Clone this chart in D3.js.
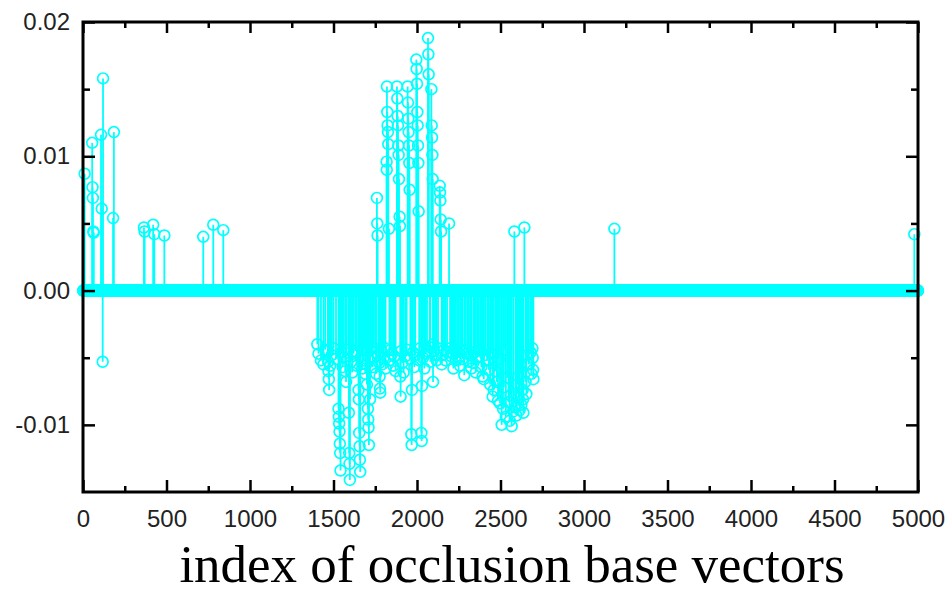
<!DOCTYPE html>
<html>
<head>
<meta charset="utf-8">
<script src="https://cdn.jsdelivr.net/npm/d3@7"></script>
<style>
  body { margin: 0; background: #fff; }
  svg { display: block; }
  .tick text { font-family: "Liberation Sans", Arial, sans-serif; font-size: 24px; fill: #222; }
</style>
</head>
<body>
<svg id="chart" width="950" height="590"></svg>
<script>
// x tick labels and y tick values
const xTicks = [0, 500, 1000, 1500, 2000, 2500, 3000, 3500, 4000, 4500, 5000];
const yTicks = [-0.01, 0.00, 0.01, 0.02];
const yTickLabels = ['-0.01', '0.00', '0.01', '0.02'];
const xLabel = 'index of occlusion base vectors';
const nVectors = 5000;

// non-zero coefficients (index, value); every other index is zero
const spikeIdx = [
  10, 55, 57, 59, 62, 64, 108, 112, 118, 120, 180, 185,
  365, 369, 420, 427, 487, 720, 780, 840,
  1403, 1440, 1466, 1468, 1470, 1472, 1474, 1490,
  1530, 1532, 1534, 1536, 1538, 1540, 1542, 1560, 1570, 1575,
  1592, 1594, 1596, 1598, 1620,
  1650, 1652, 1654, 1656, 1658, 1660, 1680, 1690, 1700,
  1706, 1708, 1710, 1712, 1719, 1750,
  1760, 1762, 1764, 1774, 1776, 1778, 1780, 1800,
  1818, 1819, 1820, 1822, 1824, 1826, 1828, 1832, 1850,
  1880, 1882, 1884, 1886, 1888, 1890, 1892, 1896, 1898, 1900, 1902, 1930,
  1944, 1946, 1948, 1950, 1952, 1954, 1956, 1966, 1968, 1970,
  1996, 1998, 2000, 2002, 2004, 2006, 2008, 2010, 2013,
  2026, 2028, 2030, 2060, 2066, 2068, 2070,
  2086, 2088, 2090, 2092, 2094, 2096, 2098, 2110,
  2136, 2138, 2140, 2142, 2144, 2148, 2180, 2192,
  2218, 2250, 2283, 2300, 2337, 2370, 2393, 2420, 2453, 2470,
  2497, 2507, 2527, 2540, 2567, 2577, 2583, 2600,
  2633, 2635, 2637, 2643, 2660, 2691, 2693, 2695, 2697,
  3182, 4978
];
const spikeVal = [
  0.0087, 0.0110, 0.0077, 0.0069, 0.0044, 0.0043, 0.0116, 0.0061, -0.0053, 0.0158, 0.0054, 0.0118,
  0.0047, 0.0044, 0.0049, 0.0042, 0.0041, 0.0040, 0.0049, 0.0045,
  -0.0040, -0.0055, -0.0045, -0.0053, -0.0060, -0.0066, -0.0074, -0.0048,
  -0.0088, -0.0094, -0.0099, -0.0105, -0.0114, -0.0121, -0.0134, -0.0050, -0.0060, -0.0068,
  -0.0091, -0.0121, -0.0129, -0.0141, -0.0047,
  -0.0074, -0.0081, -0.0106, -0.0116, -0.0126, -0.0135, -0.0052, -0.0062, -0.0070,
  -0.0088, -0.0096, -0.0102, -0.0115, -0.0081, -0.0046,
  0.0069, 0.0050, 0.0041, -0.0054, -0.0064, -0.0073, -0.0076, -0.0050,
  0.0096, 0.0090, 0.0152, 0.0133, 0.0123, 0.0118, 0.0109, 0.0046, -0.0047,
  0.0152, 0.0143, 0.0130, 0.0123, 0.0108, 0.0101, 0.0083, 0.0055, 0.0048, -0.0064, -0.0079, -0.0049,
  0.0152, 0.0140, 0.0128, 0.0118, 0.0108, 0.0095, 0.0075, -0.0107, -0.0115, -0.0074,
  0.0172, 0.0165, 0.0154, 0.0133, 0.0123, 0.0108, 0.0095, 0.0059, -0.0052,
  -0.0106, -0.0112, -0.0071, -0.0045, 0.0188, 0.0176, 0.0161,
  0.0150, 0.0123, 0.0114, 0.0101, 0.0083, -0.0068, -0.0040, -0.0048,
  0.0078, 0.0073, 0.0067, 0.0053, 0.0044, -0.0055, -0.0046, 0.0050,
  -0.0058, -0.0050, -0.0063, -0.0047, -0.0054, -0.0049, -0.0064, -0.0052, -0.0079, -0.0060,
  -0.0084, -0.0100, -0.0044, -0.0065, -0.0101, -0.0090, 0.0044, -0.0070,
  -0.0074, -0.0081, -0.0091, 0.0047, -0.0048, -0.0043, -0.0050, -0.0059, -0.0066,
  0.0046, 0.0042
];

// further small negative coefficients inside the dense block
const blockIdx = [
  1410, 1425, 1450, 1480, 1500, 1515, 1548, 1555, 1580, 1605, 1612, 1630, 1640,
  1665, 1672, 1685, 1695, 1725, 1735, 1742, 1755, 1768, 1785, 1792, 1808, 1812,
  1835, 1842, 1858, 1865, 1872, 1906, 1912, 1920, 1938, 1960, 1976, 1984, 1990,
  2018, 2036, 2044, 2052, 2076, 2080, 2102, 2118, 2126, 2155, 2162, 2170,
  2198, 2205, 2212, 2225, 2232, 2240, 2258, 2265, 2272, 2290, 2310, 2318, 2325,
  2345, 2352, 2360, 2378, 2385, 2400, 2408, 2430, 2438, 2445, 2460, 2478, 2485,
  2490, 2515, 2520, 2532, 2548, 2555, 2560, 2590, 2595, 2608, 2615, 2620, 2625,
  2650, 2655, 2670, 2680, 2685
];
const blockVal = [
  -0.0047, -0.0052, -0.0044, -0.0056, -0.0043, -0.0051, -0.0046, -0.0057, -0.0044, -0.0053, -0.0061, -0.0045, -0.0056,
  -0.0049, -0.0058, -0.0044, -0.0055, -0.0049, -0.0057, -0.0043, -0.0062, -0.0048, -0.0045, -0.0055, -0.0043, -0.0058,
  -0.0052, -0.0044, -0.0056, -0.0049, -0.0060, -0.0045, -0.0054, -0.0061, -0.0044, -0.0051, -0.0046, -0.0057, -0.0048,
  -0.0043, -0.0050, -0.0058, -0.0047, -0.0042, -0.0053, -0.0045, -0.0052, -0.0043, -0.0048, -0.0044, -0.0052,
  -0.0043, -0.0049, -0.0047, -0.0044, -0.0052, -0.0046, -0.0056, -0.0045, -0.0051, -0.0044, -0.0053, -0.0048, -0.0058,
  -0.0046, -0.0061, -0.0050, -0.0044, -0.0057, -0.0066, -0.0048, -0.0059, -0.0070, -0.0047, -0.0074, -0.0068, -0.0082,
  -0.0051, -0.0088, -0.0072, -0.0094, -0.0083, -0.0097, -0.0078, -0.0087, -0.0093, -0.0080, -0.0089, -0.0062, -0.0085,
  -0.0068, -0.0077, -0.0055, -0.0046, -0.0062
];

const lookup = new Map(spikeIdx.map((d, i) => [d, spikeVal[i]]));
blockIdx.forEach((d, i) => lookup.set(d, blockVal[i]));
const series = d3.range(1, nVectors + 1).map(i => ({ i, v: lookup.has(i) ? lookup.get(i) : 0 }));
const stems = series.filter(d => d.v !== 0);

const margin = { top: 22, right: 32, bottom: 98, left: 83 };
const width = 950 - margin.left - margin.right;
const height = 590 - margin.top - margin.bottom;
const colour = '#00ffff';

const svg = d3.select('#chart');
const g = svg.append('g').attr('transform', `translate(${margin.left},${margin.top})`);

const x = d3.scaleLinear().domain([0, 5000]).range([0, width]);
const y = d3.scaleLinear().domain([-0.015, 0.02]).range([height, 0]);

// stems
g.append('g')
  .selectAll('line')
  .data(stems)
  .join('line')
    .attr('x1', d => x(d.i))
    .attr('x2', d => x(d.i))
    .attr('y1', y(0))
    .attr('y2', d => y(d.v))
    .attr('stroke', colour)
    .attr('stroke-width', 1.8);

// markers (zeros first so spikes sit on top)
g.append('g')
  .selectAll('circle')
  .data(series.filter(d => d.v === 0).concat(stems))
  .join('circle')
    .attr('cx', d => x(d.i))
    .attr('cy', d => y(d.v))
    .attr('r', 5.4)
    .attr('fill', 'none')
    .attr('stroke', colour)
    .attr('stroke-width', 1.7);

// minor ticks
const xMinor = d3.range(250, 5000, 500);
const yMinor = [-0.005, 0.005, 0.015];
const noLabel = () => '';

g.append('g').attr('transform', `translate(0,${height})`)
  .call(d3.axisBottom(x).tickValues(xMinor).tickSizeInner(-6).tickSizeOuter(0).tickFormat(noLabel));
g.append('g')
  .call(d3.axisTop(x).tickValues(xMinor).tickSizeInner(-6).tickSizeOuter(0).tickFormat(noLabel));
g.append('g')
  .call(d3.axisLeft(y).tickValues(yMinor).tickSizeInner(-7).tickSizeOuter(0).tickFormat(noLabel));
g.append('g').attr('transform', `translate(${width},0)`)
  .call(d3.axisRight(y).tickValues(yMinor).tickSizeInner(-7).tickSizeOuter(0).tickFormat(noLabel));

// major ticks with labels
g.append('g').attr('transform', `translate(0,${height})`)
  .call(d3.axisBottom(x).tickValues(xTicks).tickSizeInner(-12).tickSizeOuter(0).tickPadding(18).tickFormat(d3.format('d')));
g.append('g')
  .call(d3.axisTop(x).tickValues(xTicks).tickSizeInner(-11).tickSizeOuter(0).tickFormat(noLabel));
g.append('g')
  .call(d3.axisLeft(y).tickValues(yTicks).tickSizeInner(-12).tickSizeOuter(0).tickPadding(13)
    .tickFormat((d, i) => yTickLabels[i]));
g.append('g').attr('transform', `translate(${width},0)`)
  .call(d3.axisRight(y).tickValues(yTicks).tickSizeInner(-12).tickSizeOuter(0).tickFormat(noLabel));

g.selectAll('.domain').remove();
g.selectAll('.tick line').attr('stroke', '#000').attr('stroke-width', 2.5);

// frame
g.append('rect')
  .attr('width', width)
  .attr('height', height)
  .attr('fill', 'none')
  .attr('stroke', '#000')
  .attr('stroke-width', 3);

svg.append('text')
  .attr('x', 512)
  .attr('y', 582)
  .attr('text-anchor', 'middle')
  .style('font-family', '"Liberation Serif", "Times New Roman", serif')
  .style('font-size', '53px')
  .attr('fill', '#000')
  .text(xLabel);
</script>
</body>
</html>
